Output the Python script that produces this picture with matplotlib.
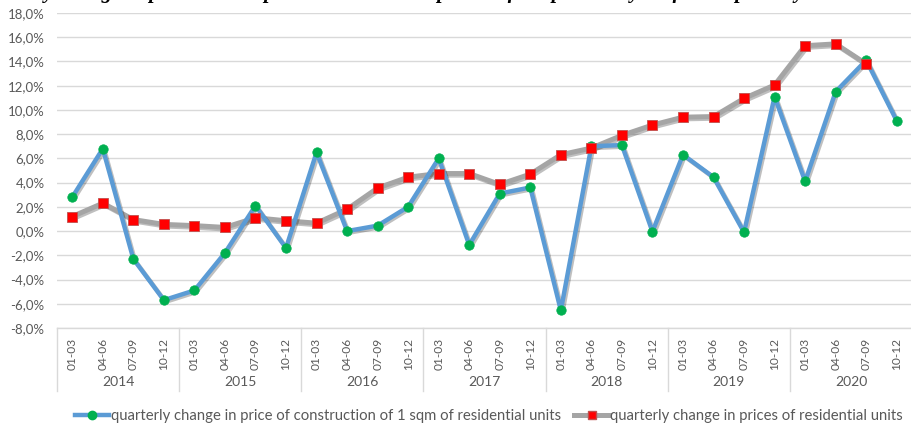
import matplotlib
matplotlib.use('Agg')
import matplotlib.pyplot as plt
import numpy as np
from matplotlib.lines import Line2D
import matplotlib.patheffects as pe

years = ['2014', '2015', '2016', '2017', '2018', '2019', '2020']
quarters = ['01-03', '04-06', '07-09', '10-12']
construction_change = [2.8, 6.8, -2.3, -5.7,
                       -4.9, -1.8, 2.1, -1.4,
                       6.5, 0.0, 0.45, 2.0,
                       6.0, -1.15, 3.1, 3.6,
                       -6.55, 7.0, 7.1, -0.05,
                       6.3, 4.45, -0.1, 11.1,
                       4.1, 11.5, 14.1, 9.1]
residential_change = [1.2, 2.3, 0.95, 0.55,
                      0.45, 0.3, 1.1, 0.85,
                      0.65, 1.8, 3.55, 4.45,
                      4.75, 4.75, 3.85, 4.7,
                      6.3, 6.85, 7.9, 8.75,
                      9.4, 9.45, 10.95, 12.05,
                      15.3, 15.45, 13.8, np.nan]
label_construction = 'quarterly change in price of construction of 1 sqm of residential units'
label_residential = 'quarterly change in prices of residential units'
title_text = 'Quarterly change in prices in comparison to the same period of the previous year for the primary market'

FONT = ['Lato', 'DejaVu Sans']
plt.rcParams['font.family'] = FONT
TXT = '#595959'
GRID = '#D9D9D9'
BLUE = '#5B9BD5'
GRAY = '#A5A5A5'

W, H = 912, 424
fig = plt.figure(figsize=(W / 100, H / 100), dpi=100)
ax_bottom, ax_top = 96, 411
ax = fig.add_axes([57 / W, ax_bottom / H, (W - 57) / W, (ax_top - ax_bottom) / H])

n = len(construction_change)
x = np.arange(n)

shadow = [pe.SimpleLineShadow(offset=(1.2, -1.2), alpha=0.25, shadow_color='black'), pe.Normal()]
ax.plot(x, residential_change, color=GRAY, lw=3.6, solid_joinstyle='round', zorder=3,
        path_effects=shadow)
ax.plot(x, construction_change, color=BLUE, lw=3.2, solid_joinstyle='round', zorder=4,
        path_effects=shadow)
ax.plot(x, construction_change, ls='none', marker='o', ms=6.8, mfc='#00B050', mec='#00B050',
        mew=0.5, zorder=5)
ax.plot(x, residential_change, ls='none', marker='s', ms=6.8, mfc='#FF0000', mec='#C0504D',
        mew=0.6, zorder=6)

ax.set_xlim(-0.5, n - 0.5)
ax.set_ylim(-8, 18)
ax.set_yticks(np.arange(-8, 18.1, 2))
ax.set_yticklabels([('%.1f%%' % v).replace('.', ',') for v in np.arange(-8, 18.1, 2)],
                   fontsize=9.5, color=TXT)
ax.tick_params(axis='y', length=0, pad=9)
ax.grid(axis='y', color=GRID, lw=1)
ax.set_axisbelow(True)
for s in ['top', 'right', 'left']:
    ax.spines[s].set_visible(False)
ax.spines['bottom'].set_color(GRID)
ax.spines['bottom'].set_linewidth(1)

ax.set_xticks(x)
ax.set_xticklabels(quarters * len(years), rotation=90, fontsize=8.6, color=TXT)
ax.tick_params(axis='x', length=0, pad=7)

trans = ax.get_xaxis_transform()
h_ax = ax_top - ax_bottom
year_y = (H - 382 - ax_bottom) / h_ax
sep_y = (H - 391 - ax_bottom) / h_ax
for i, yr in enumerate(years):
    ax.text(i * 4 + 1.5, year_y, yr, transform=trans, ha='center', va='center',
            fontsize=10, color=TXT)
for k in range(len(years) + 1):
    ax.add_line(Line2D([k * 4 - 0.5, k * 4 - 0.5], [0, sep_y], transform=trans,
                       color=GRID, lw=1, clip_on=False))

handles = [Line2D([], [], color=BLUE, lw=3.2, marker='o', ms=6, mfc='#00B050', mec='#00B050'),
           Line2D([], [], color=GRAY, lw=3.6, marker='s', ms=6, mfc='#FF0000', mec='#C0504D')]
leg = fig.legend(handles, [label_construction, label_residential], loc='center',
                 bbox_to_anchor=(489 / W, 1 - 416 / H), ncol=2, frameon=False, fontsize=10.75,
                 handlelength=2.3, handletextpad=0.1, columnspacing=0.9)
for t in leg.get_texts():
    t.set_color(TXT)

fig.text(870 / W, 1 + 1.5 / H, title_text, ha='right', va='baseline', fontsize=15,
         family=['Liberation Serif', 'DejaVu Serif'], style='italic', weight='bold',
         color='black')

fig.savefig('out.png', dpi=100)
